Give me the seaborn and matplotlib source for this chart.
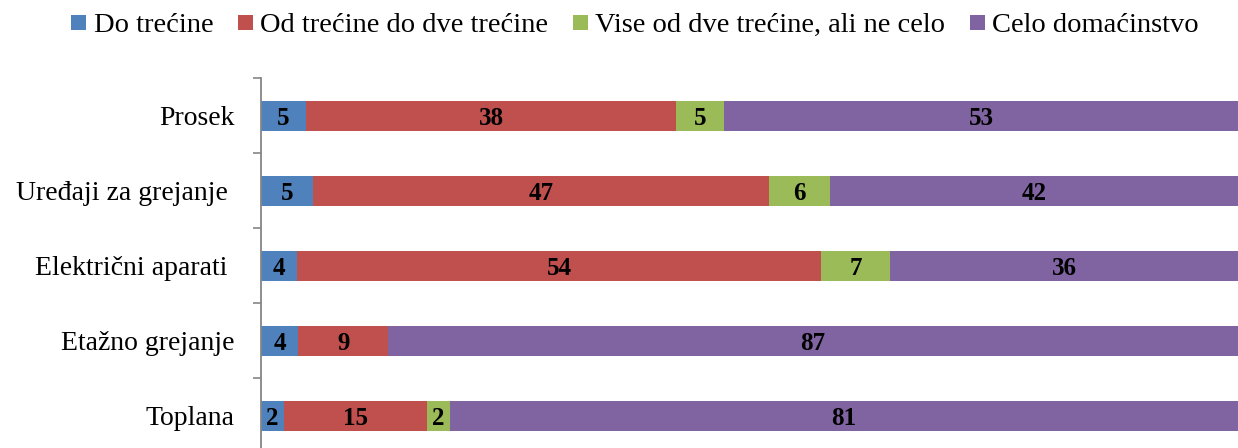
import numpy as np
import pandas as pd
import matplotlib
matplotlib.use("Agg")
import matplotlib.pyplot as plt
import seaborn as sns
from matplotlib.lines import Line2D

categories = ["Prosek", "Uređaji za grejanje ", "Električni aparati ", "Etažno grejanje", "Toplana"]
series_names = ["Do trećine", "Od trećine do dve trećine", "Vise od dve trećine, ali ne celo", "Celo domaćinstvo"]
do_trecine = [4.6, 5.3, 3.7, 3.8, 2.4]
od_trecine_do_dve = [37.9, 46.7, 53.6, 9.2, 14.6]
vise_od_dve = [4.9, 6.2, 7.1, 0.0, 2.3]
celo = [52.6, 41.8, 35.6, 87.0, 80.7]
colors = ["#4F81BD", "#C0504D", "#9BBB59", "#8064A2"]

sns.set_theme(style="white")
plt.rcParams["font.family"] = ["Liberation Serif", "DejaVu Serif"]
plt.rcParams["text.color"] = "black"
plt.rcParams["ytick.labelcolor"] = "black"

series = [do_trecine, od_trecine_do_dve, vise_od_dve, celo]
df = pd.DataFrame({n: v for n, v in zip(series_names, series)}, index=categories)
cum = df.cumsum(axis=1)

fig = plt.figure(figsize=(12.38, 4.48), dpi=100)
ax = fig.add_axes([261 / 1238, (448 - 453) / 448, 1 - 261 / 1238, 375 / 448])

# draw from the total backwards so each segment is visible
for name, col in reversed(list(zip(series_names, colors))):
    sns.barplot(x=cum[name].values, y=categories, orient="h", color=col,
                width=0.4, saturation=1, ax=ax, linewidth=0)

for i, cat in enumerate(categories):
    for name in series_names:
        v = df.loc[cat, name]
        if v <= 0:
            continue
        center = cum.loc[cat, name] - v / 2
        ax.text(center, i, f"{v:.0f}", ha="center", va="center_baseline",
                fontsize=18, fontweight="bold", color="black")

ax.set_xlim(0, 100)
ax.set_ylim(len(categories) - 0.5, -0.5)
ax.set_xlabel("")
ax.set_ylabel("")
ax.set_xticks([])
ax.set_yticks(range(len(categories)))
ax.set_yticklabels(categories, fontsize=20, color="black")
ax.set_yticks(np.arange(-0.5, len(categories), 1.0), minor=True)
ax.tick_params(axis="y", which="major", length=0, pad=19)
ax.tick_params(axis="y", which="minor", length=6, width=1.2, color="#868686", left=True)
for s in ["top", "right", "bottom"]:
    ax.spines[s].set_visible(False)
ax.spines["left"].set_color("#868686")
ax.spines["left"].set_linewidth(1.3)

handles = [Line2D([], [], linestyle="none", marker="s", markersize=10.8,
                  markerfacecolor=c, markeredgewidth=0, label=n)
           for n, c in zip(series_names, colors)]
leg = fig.legend(handles=handles, loc="center left", bbox_to_anchor=(71 / 1238, 1 - 25 / 448),
                 ncol=4, frameon=False, fontsize=20.5, handlelength=0.52, handleheight=0.7,
                 handletextpad=0.28, columnspacing=0.85, borderpad=0, borderaxespad=0)
for t in leg.get_texts():
    t.set_color("black")

fig.savefig("out.png", dpi=100)
